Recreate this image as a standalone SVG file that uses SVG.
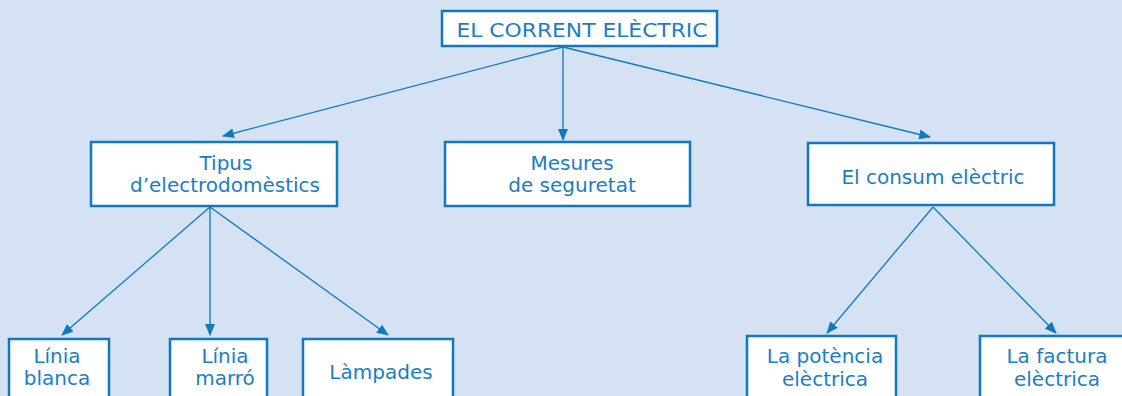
<svg xmlns="http://www.w3.org/2000/svg" width="1122" height="396" viewBox="0 0 1122 396">
<defs>
<marker id="ah" markerWidth="12" markerHeight="10" refX="11" refY="5" orient="auto" markerUnits="userSpaceOnUse">
<path d="M0,0 L12,5 L0,10 Z" fill="#1079c0"/>
</marker>
<style>
.box{fill:#fff;stroke:#1079c0;stroke-width:2.5}
.t{font-family:"DejaVu Sans","Noto Sans",sans-serif;font-size:20px;fill:#1a7ec4;text-anchor:middle}
.c{stroke:#1079c0;stroke-width:1.3;fill:none;marker-end:url(#ah)}
</style>
</defs>
<rect width="1122" height="396" fill="#d4e2f4"/>
<g id="connectors">
<line class="c" x1="563" y1="47" x2="223" y2="136"/>
<line class="c" x1="563" y1="47" x2="563" y2="140"/>
<line class="c" x1="563" y1="47" x2="930" y2="137"/>
<line class="c" x1="210" y1="207" x2="62" y2="335"/>
<line class="c" x1="210" y1="207" x2="210" y2="335"/>
<line class="c" x1="210" y1="207" x2="388" y2="335"/>
<line class="c" x1="933" y1="207" x2="827" y2="333"/>
<line class="c" x1="933" y1="207" x2="1056" y2="333"/>
</g>
<g id="root">
<rect class="box" x="442" y="11" width="275" height="35"/>
<text class="t" x="582" y="37" textLength="251" lengthAdjust="spacingAndGlyphs">EL CORRENT ELÈCTRIC</text>
</g>
<g id="tipus">
<rect class="box" x="91" y="142" width="246" height="64"/>
<text class="t" x="226" y="170">Tipus</text>
<text class="t" x="225" y="192">d’electrodomèstics</text>
</g>
<g id="mesures">
<rect class="box" x="445" y="142" width="245" height="64"/>
<text class="t" x="572" y="170">Mesures</text>
<text class="t" x="572" y="192">de seguretat</text>
</g>
<g id="consum">
<rect class="box" x="808" y="143" width="246" height="62"/>
<text class="t" x="933" y="184">El consum elèctric</text>
</g>
<g id="blanca">
<rect class="box" x="9" y="339" width="100" height="70"/>
<text class="t" x="57" y="363">Línia</text>
<text class="t" x="57" y="385">blanca</text>
</g>
<g id="marro">
<rect class="box" x="170" y="339" width="97" height="70"/>
<text class="t" x="225" y="363">Línia</text>
<text class="t" x="225" y="385">marró</text>
</g>
<g id="lampades">
<rect class="box" x="303" y="339" width="150" height="70"/>
<text class="t" x="381" y="379">Làmpades</text>
</g>
<g id="potencia">
<rect class="box" x="747" y="336" width="149" height="70"/>
<text class="t" x="825" y="363">La potència</text>
<text class="t" x="825" y="386">elèctrica</text>
</g>
<g id="factura">
<rect class="box" x="980" y="336" width="150" height="70"/>
<text class="t" x="1057" y="363">La factura</text>
<text class="t" x="1057" y="386">elèctrica</text>
</g>
</svg>
